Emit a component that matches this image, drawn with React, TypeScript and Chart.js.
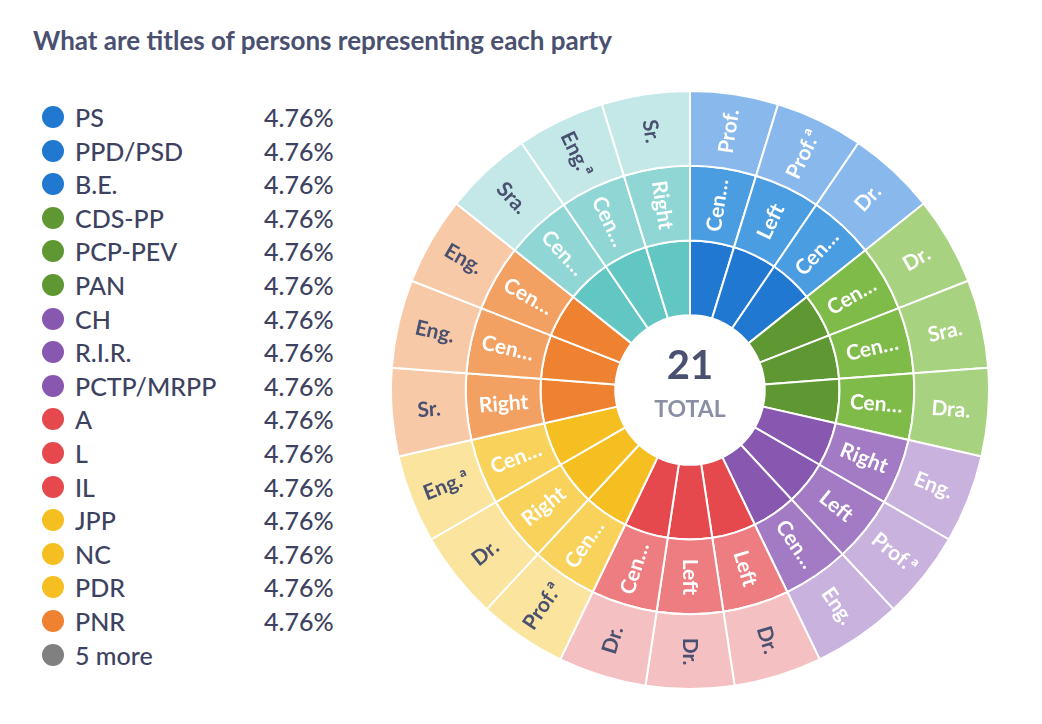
import React, { useEffect, useRef } from "react";
import { Chart, registerables } from "chart.js";
Chart.register(...registerables);

const parties = ["PS","PPD/PSD","B.E.","CDS-PP","PCP-PEV","PAN","CH","R.I.R.","PCTP/MRPP","A","L","IL","JPP","NC","PDR","PNR","P17","P18","P19","P20","P21"];
const groups = [0,0,0,1,1,1,2,2,2,3,3,3,4,4,4,5,5,5,6,6,6];
const orientations = ["Cen…","Left","Cen…","Cen…","Cen…","Cen…","Right","Left","Cen…","Left","Left","Cen…","Cen…","Right","Cen…","Right","Cen…","Cen…","Cen…","Cen…","Right"];
const titles = ["Prof.","Prof.ª","Dr.","Dr.","Sra.","Dra.","Eng.","Prof.ª","Eng.","Dr.","Dr.","Dr.","Prof.ª","Dr.","Eng.ª","Sr.","Eng.","Eng.","Sra.","Eng.ª","Sr."];
const values = parties.map(() => 1);
const legendItems = ["PS","PPD/PSD","B.E.","CDS-PP","PCP-PEV","PAN","CH","R.I.R.","PCTP/MRPP","A","L","IL","JPP","NC","PDR","PNR"];
const legendPct = "4.76%";

const dark = ["#2178d0","#5f9833","#8858b0","#e5494e","#f5bf21","#ee8231","#62c6c3"];
const mid = ["#4b9de2","#7fbb48","#a27bc4","#ed7d81","#f8d25b","#f3a163","#8fd6d4"];
const light = ["#89b9ec","#a7d27f","#c9b2dd","#f4c0c1","#fbe49d","#f7c9a6","#c4e8e8"];
const outerText = ["#fff","#fff","#fff","#4a5070","#4a5070","#4a5070","#4a5070"];

const labelPlugin = {
  id: "labels",
  afterDatasetsDraw(chart: any) {
    const ctx = chart.ctx;
    const sets = [titles, orientations, null];
    chart.data.datasets.forEach((ds: any, di: number) => {
      const texts = sets[di];
      if (!texts) return;
      const meta = chart.getDatasetMeta(di);
      meta.data.forEach((arc: any, i: number) => {
        const a = (arc.startAngle + arc.endAngle) / 2;
        const r = (arc.innerRadius + arc.outerRadius) / 2;
        const x = arc.x + Math.cos(a) * r, y = arc.y + Math.sin(a) * r;
        ctx.save();
        ctx.translate(x, y);
        ctx.rotate(Math.cos(a) < -0.01 ? a + Math.PI : a);
        ctx.font = "bold 21px Lato";
        ctx.textAlign = "center";
        ctx.textBaseline = "middle";
        ctx.fillStyle = di === 0 ? outerText[groups[i]] : "#fff";
        ctx.fillText(texts[i], 0, 0);
        ctx.restore();
      });
    });
    const m = chart.getDatasetMeta(2).data[0];
    ctx.save();
    ctx.textAlign = "center";
    ctx.textBaseline = "middle";
    ctx.fillStyle = "#4a5070";
    ctx.font = "bold 40px Lato";
    ctx.fillText("21", m.x, m.y - 24);
    ctx.fillStyle = "#8a8fa3";
    ctx.font = "bold 23px Lato";
    ctx.fillText("TOTAL", m.x, m.y + 20);
    ctx.restore();
  },
};

export default function App() {
  const ref = useRef<HTMLCanvasElement>(null);
  useEffect(() => {
    const chart = new Chart(ref.current!, {
      type: "doughnut",
      data: {
        labels: parties,
        datasets: [
          { data: values, backgroundColor: groups.map(g => light[g]), borderColor: "#fff", borderWidth: 2 },
          { data: values, backgroundColor: groups.map(g => mid[g]), borderColor: "#fff", borderWidth: 2 },
          { data: values, backgroundColor: groups.map(g => dark[g]), borderColor: "#fff", borderWidth: 2 },
        ],
      },
      options: {
        responsive: false,
        animation: false,
        cutout: "25%",
        layout: { padding: 0 },
        plugins: { legend: { display: false }, tooltip: { enabled: false } },
      },
      plugins: [labelPlugin],
    });
    return () => chart.destroy();
  }, []);
  const row = { position: "absolute" as const, left: 42, height: 28, display: "flex", alignItems: "center", fontSize: 25, fontWeight: 500, color: "#3d4260", whiteSpace: "nowrap" as const };
  return (
    <div style={{ position: "absolute", left: 0, top: 0, width: 1042, height: 724, background: "#fff", fontFamily: "Lato" }}>
      <div style={{ position: "absolute", left: 33, top: 24, fontSize: 26, fontWeight: 700, color: "#4a5070", whiteSpace: "nowrap" }}>
        What are titles of persons representing each party
      </div>
      {legendItems.map((p, i) => (
        <div key={p} style={{ ...row, top: 103 + i * 33.6 }}>
          <span style={{ width: 22, height: 22, borderRadius: 11, background: dark[groups[i]], display: "inline-block" }} />
          <span style={{ position: "absolute", left: 33 }}>{p}</span>
          <span style={{ position: "absolute", left: 222 }}>{legendPct}</span>
        </div>
      ))}
      <div style={{ ...row, top: 103 + 16 * 33.6 }}>
        <span style={{ width: 22, height: 22, borderRadius: 11, background: "#808080", display: "inline-block" }} />
        <span style={{ position: "absolute", left: 33 }}>5 more</span>
      </div>
      <canvas ref={ref} width={600} height={600} style={{ position: "absolute", left: 390, top: 90 }} />
    </div>
  );
}
